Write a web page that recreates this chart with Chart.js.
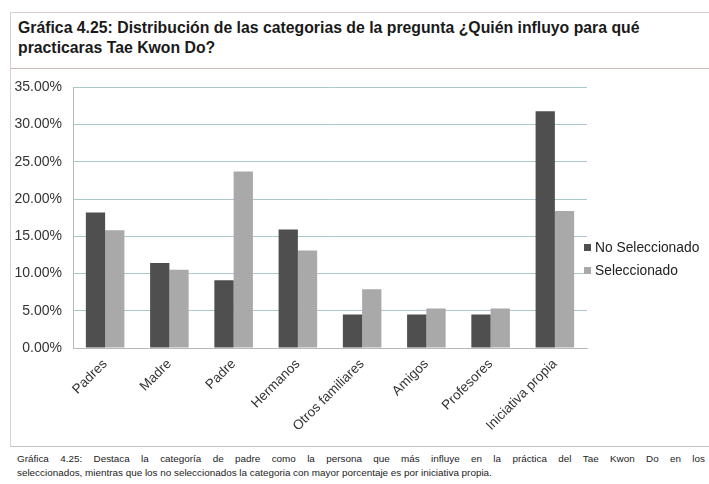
<!DOCTYPE html>
<html lang="es">
<head>
<meta charset="UTF-8">
<title>Gráfica 4.25</title>
<script src="https://cdn.jsdelivr.net/npm/chart.js"></script>
<style>
    body { margin: 0; background: #fff; font-family: "Liberation Sans", Arial, sans-serif; }
    .hoja { position: relative; width: 709px; height: 484px; overflow: hidden; }
    .titulo {
        position: absolute; left: 10px; top: 12px; width: 710px; height: 55px;
        border-top: 1px solid #d8cfcc; border-left: 1px solid #d8cfcc; border-bottom: 1px solid #c9b9b6;
    }
    .titulo h1 {
        margin: 0; position: absolute; left: 7px; top: 5px;
        font-size: 15.8px; line-height: 20px; font-weight: bold; color: #1a1a1a;
    }
    .marco {
        position: absolute; left: 10px; top: 68px; width: 710px; height: 378px;
        border-left: 1px solid #d8d2d0; border-bottom: 1px solid #c8c2c0;
    }
    .marco canvas { position: absolute; left: 0; top: 0; }
    .leyenda { position: absolute; left: 584px; top: 240px; font-size: 13.8px; color: #222; }
    .leyenda div { height: 23px; line-height: 16px; white-space: nowrap; }
    .leyenda span { display: inline-block; width: 7px; height: 7px; margin-right: 4px; vertical-align: 1px; }
    .nota {
        position: absolute; left: 17px; top: 452px; width: 688px;
        font-family: "Liberation Sans Narrow", "Arial Narrow", "Liberation Sans", sans-serif;
        font-size: 9.9px; line-height: 14px; color: #222;
    }
    .nota .l1 { display: block; text-align: justify; text-align-last: justify; }
</style>
</head>
<body>
<div class="hoja">
    <div class="titulo">
        <h1>Gráfica 4.25: Distribución de las categorias de la pregunta ¿Quién influyo para qué<br>practicaras Tae Kwon Do?</h1>
    </div>
    <div class="marco">
        <canvas id="canva1" width="699" height="378" style="width:699px;height:378px"></canvas>
    </div>
    <div class="leyenda" id="leyenda"></div>
    <div class="nota"><span class="l1">Gráfica 4.25: Destaca la categoría de padre como la persona que más influye en la práctica del Tae Kwon Do en los</span>seleccionados, mientras que los no seleccionados la categoria con mayor porcentaje es por iniciativa propia.</div>
</div>

<script>
    var categorias = ["Padres", "Madre", "Padre", "Hermanos", "Otros familiares", "Amigos", "Profesores", "Iniciativa propia"];
    var noSeleccionado = [18.2, 11.4, 9.1, 15.9, 4.5, 4.5, 4.5, 31.8];
    var seleccionado = [15.8, 10.5, 23.7, 13.1, 7.9, 5.3, 5.3, 18.4];
    var series = ["No Seleccionado", "Seleccionado"];
    var colores = ["#4f4f4f", "#a9a9a9"];
    var ticksY = [0, 5, 10, 15, 20, 25, 30, 35];

    var fuente = { family: "'Liberation Sans', Arial, sans-serif", size: 13.5 };

    new Chart(document.getElementById('canva1'), {
        type: "bar",
        data: {
            labels: categorias,
            datasets: [
                { label: series[0], data: noSeleccionado, backgroundColor: colores[0] },
                { label: series[1], data: seleccionado, backgroundColor: colores[1] }
            ]
        },
        options: {
            responsive: false,
            animation: false,
            layout: { padding: { top: 3, right: 123, left: 0, bottom: 0 } },
            plugins: { legend: { display: false }, tooltip: { enabled: false } },
            datasets: { bar: { barPercentage: 1, categoryPercentage: 0.6 } },
            scales: {
                x: {
                    grid: { display: false },
                    border: { color: "#b9b9b9" },
                    ticks: { color: "#333", font: fuente, minRotation: 45, maxRotation: 45, padding: 0 },
                    afterFit: function (s) { s.height = 98; }
                },
                y: {
                    min: 0, max: 35,
                    afterBuildTicks: function (s) { s.ticks = ticksY.map(function (v) { return { value: v }; }); },
                    grid: { color: "#a8c8cc", drawTicks: false },
                    border: { color: "#b9b9b9" },
                    ticks: {
                        color: "#333", font: { family: fuente.family, size: 14 }, padding: 11,
                        callback: function (v) { return v.toFixed(2) + "%"; }
                    },
                    afterFit: function (s) { s.width = 62; }
                }
            }
        }
    });

    var ley = document.getElementById('leyenda');
    for (var i = 0; i < series.length; i++) {
        ley.innerHTML += '<div><span style="background:' + colores[i] + '"></span>' + series[i] + '</div>';
    }
</script>
</body>
</html>
